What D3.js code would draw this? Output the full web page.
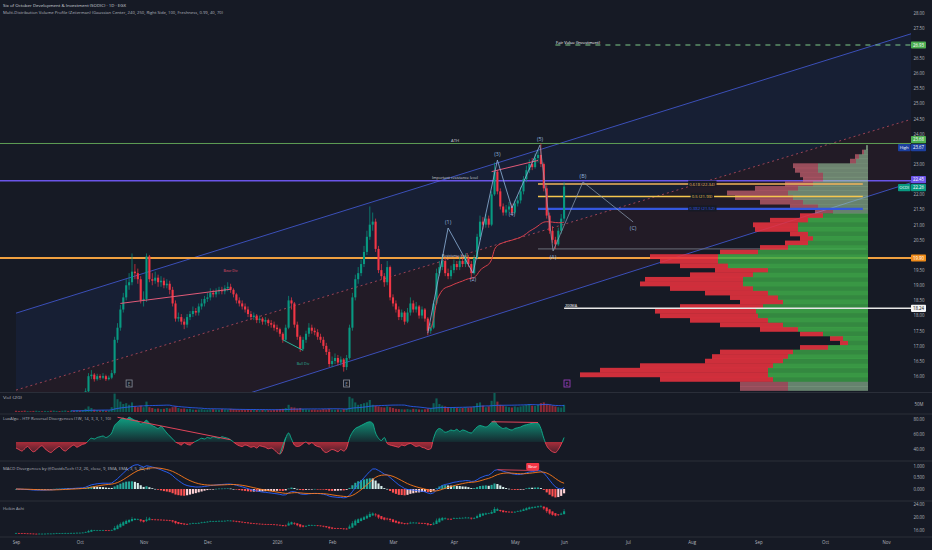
<!DOCTYPE html>
<html><head><meta charset="utf-8">
<script src="https://cdn.jsdelivr.net/npm/d3@7"></script>
<style>html,body{margin:0;padding:0;background:#161a25;}svg{display:block;font-family:"Open Sans",Roboto,sans-serif;}</style>
</head><body><svg id="c" width="932" height="550"></svg>
<script>
// ---------- DATA ----------
const firstOpen = 15.15;
const closes = [15.10,15.05,15.00,14.95,15.00,14.90,14.85,14.90,14.95,14.90,
14.95,15.00,14.95,15.05,15.10,15.05,15.10,15.15,15.10,15.20,
15.15,15.25,15.20,15.30,15.50,16.00,16.05,15.90,16.00,15.95,
16.00,15.90,15.95,16.10,17.20,17.60,18.20,18.60,19.00,19.10,
19.45,19.40,19.20,18.50,18.55,19.95,19.20,19.15,19.25,19.10,
19.15,19.00,19.05,18.85,18.40,17.90,17.95,17.80,17.70,17.95,
18.05,18.15,18.10,18.30,18.40,18.55,18.60,18.75,18.70,18.80,
18.85,18.80,18.90,18.95,18.85,18.70,18.50,18.40,18.30,18.20,
18.05,17.95,18.00,17.85,17.90,17.80,17.85,17.75,17.70,17.60,
17.55,17.40,17.20,17.60,18.50,18.40,17.70,17.30,16.90,17.20,
17.40,17.60,17.50,17.45,17.30,17.20,17.00,16.80,16.40,16.50,
16.60,16.45,16.55,16.30,16.60,17.60,18.60,19.20,19.40,19.70,
20.10,20.60,21.00,21.10,20.20,19.50,19.30,19.10,19.60,18.60,
18.40,18.20,17.95,18.10,17.80,18.10,18.40,18.20,18.30,18.00,
18.20,17.90,17.50,17.60,18.40,19.40,19.60,19.80,19.40,19.30,
19.50,19.70,19.60,19.80,19.70,19.90,19.70,19.40,19.90,20.60,
21.10,21.00,21.20,21.00,22.00,22.75,22.10,21.60,21.40,21.50,
21.60,21.40,21.70,21.80,22.10,22.50,22.80,23.00,22.90,23.20,
23.30,23.00,22.20,21.30,20.80,20.50,20.35,20.80,21.20,22.26];
const highs = [15.25,15.18,15.12,15.08,15.10,15.05,14.98,15.00,15.05,15.02,
15.05,15.10,15.06,15.12,15.20,15.16,15.18,15.24,15.20,15.28,
15.26,15.34,15.30,15.40,15.60,16.10,16.20,16.10,16.08,16.06,
16.10,16.05,16.02,16.20,17.30,17.75,18.35,18.75,19.20,19.40,
20.05,19.70,19.55,19.30,18.80,20.05,20.00,19.40,19.45,19.35,
19.30,19.25,19.20,19.15,18.95,18.50,18.10,18.05,17.90,18.05,
18.15,18.30,18.25,18.40,18.55,18.65,18.75,18.90,18.85,18.90,
18.95,18.95,19.00,19.10,19.05,18.90,18.75,18.60,18.50,18.40,
18.30,18.15,18.10,18.05,18.00,17.95,17.95,17.90,17.85,17.80,
17.70,17.60,17.45,17.70,18.65,18.60,18.45,17.80,17.35,17.30,
17.50,17.75,17.70,17.60,17.55,17.40,17.30,17.10,16.90,16.65,
16.75,16.70,16.65,16.60,16.70,17.70,18.75,19.35,19.60,19.85,
20.30,20.80,21.60,21.40,21.20,20.30,19.70,19.40,19.80,19.65,
18.70,18.50,18.30,18.20,18.15,18.25,18.60,18.50,18.45,18.35,
18.30,18.25,17.95,17.75,18.50,19.55,19.80,20.00,19.90,19.55,
19.65,19.85,19.80,19.95,19.90,20.05,20.00,19.80,20.00,20.70,
21.30,21.25,21.35,21.30,22.10,23.05,22.80,22.20,21.70,21.65,
21.75,21.70,21.80,21.95,22.25,22.60,22.95,23.15,23.20,23.35,
23.45,23.68,23.05,22.30,21.40,20.95,20.60,20.90,21.35,22.40];
const lows = [15.00,14.98,14.92,14.88,14.90,14.82,14.78,14.80,14.85,14.84,
14.86,14.90,14.88,14.90,15.00,14.98,15.00,15.05,15.04,15.06,
15.08,15.10,15.12,15.15,15.25,15.45,15.90,15.82,15.85,15.88,
15.90,15.84,15.86,15.90,16.05,17.10,17.50,18.10,18.50,18.85,
19.00,19.20,19.05,18.40,18.30,18.45,19.10,19.00,19.05,18.95,
18.95,18.90,18.90,18.70,18.30,17.80,17.80,17.70,17.55,17.60,
17.85,17.95,18.00,18.00,18.20,18.30,18.45,18.50,18.60,18.60,
18.70,18.70,18.70,18.80,18.75,18.60,18.40,18.30,18.20,18.10,
17.95,17.85,17.85,17.75,17.75,17.70,17.70,17.65,17.60,17.50,
17.45,17.30,17.10,17.15,17.55,18.20,17.60,17.20,16.80,16.85,
17.10,17.30,17.40,17.35,17.20,17.10,16.90,16.70,16.30,16.30,
16.40,16.35,16.35,16.15,16.20,16.55,17.50,18.50,19.05,19.30,
19.60,20.00,20.50,20.80,20.10,19.40,19.20,18.95,19.00,18.50,
18.30,18.10,17.85,17.85,17.70,17.75,18.00,18.10,18.10,17.90,
17.90,17.80,17.35,17.40,17.55,18.35,19.30,19.50,19.30,19.20,
19.20,19.40,19.50,19.50,19.60,19.60,19.60,19.20,19.35,19.85,
20.50,20.85,20.90,20.90,20.95,21.95,22.00,21.50,21.30,21.30,
21.40,21.30,21.35,21.60,21.70,22.00,22.40,22.70,22.80,22.85,
23.05,22.90,22.10,21.20,20.70,20.40,20.20,20.30,20.70,21.10];
const volumes = [8,6,7,9,6,5,7,8,6,5, 7,6,8,9,7,6,8,10,7,9, 8,10,9,12,20,35,25,15,12,10,
12,9,10,30,115,80,65,50,55,45, 60,35,30,40,30,65,30,25,20,22, 18,20,25,22,30,35,25,20,22,18,
20,15,14,16,18,15,14,16,17,15, 14,18,16,15,20,18,16,14,15,13, 14,12,15,13,12,14,13,12,11,13,
15,18,20,25,45,30,28,22,25,18, 16,15,14,15,13,14,18,16,20,15, 14,16,14,18,22,95,85,60,45,50,
55,60,75,45,40,35,30,28,35,30, 25,20,18,17,16,18,15,20,18,16, 15,17,22,25,55,85,50,40,35,30,
25,28,26,24,25,30,28,30,35,55, 60,40,30,35,70,120,65,45,40,35, 30,28,35,30,35,40,45,50,40,38,
45,55,60,50,45,40,35,30,28,45];
const luxOsc = [42,40,38,41,44,40,37,39,43,45,41,38,36,39,42,44,40,38,41,44,46,43,45,47,48,
52,55,54,56,57,58,56,58,62,72,76,80, 82,80,83,81,79,78, 74,76,79,75,72,70,68,71,67,
62,58,54,50, 48,46,49,47,46,49,51,53, 55,54,56,55,57,56,55,57,56,55,53,50,
47,45,44,46,45,43,44,42,45,44,43,41,42,40,36,34, 40,55,62,54,46,44,45,
48,50,47,49,46,44,43,38,36,38,40,39,37,40,38,42,55,63, 68,70,72,74,76,77,75, 62,55,52,56,
48,46,45,44,43,46,45,47,48,46,44,45,43,42,40,41, 55,65,68,66,63,64,66,65,67,64,66,65,63,62,66,
70,72,71,70,72,76,78,73, 70,68,69,67,66,68,69,70,72,73,74,75,76,75, 68,55,45,40,37,36,40,47,56];
const monthLabels = ["Sep","Oct","Nov","Dec","2026","Feb","Mar","Apr","May","Jun","Jul","Aug","Sep","Oct","Nov"];
const monthStartBars = [0,22,44,66,90,109,130,151,172,189,211,233,256,279,300];
const priceTicks = [16,16.5,17,17.5,18,18.5,19,19.5,20,20.5,21,21.5,22,22.5,23,23.5,24,24.5,25,25.5,26,26.5,27,27.5,28];
const profilePrices = [15.60,15.75,15.90,16.05,16.20,16.35,16.50,16.65,16.80,16.95,17.10,17.25,17.40,17.55,17.70,17.85,18.00,18.15,18.30,18.45,18.60,18.75,18.90,19.05,19.20,19.35,19.50,19.65,19.80,19.95,20.10,20.25,20.40,20.55,20.70,20.85,21.00,21.15,21.30,21.45,21.60,21.75,21.90,22.05,22.20,22.35,22.50,22.65,22.80,22.95,23.10,23.25,23.40,23.55];
const profileTotal = [128,128,208,288,268,228,163,156,148,68,28,38,68,108,148,178,208,213,188,128,138,163,198,228,223,178,153,188,208,218,148,108,83,68,78,113,115,98,68,53,78,108,133,141,113,83,65,68,73,75,18,13,6,2];
const profileBuy = [80,80,95,100,100,95,85,80,75,40,20,25,45,70,85,100,110,112,105,85,90,100,115,125,125,115,100,140,150,150,110,80,60,55,60,70,70,60,45,35,50,65,75,80,70,55,45,45,50,50,12,9,4,2];
const channelBars = [0, 316];
const channelUpper = [18.08, 27.52];
const channelMid = [15.54, 24.69];
const channelLower = [12.99, 22.61];
const waveBars = [142,149,157.6,166,171,180.7,185.2,195.5,212.8];
const wavePrices = [17.42,20.89,19.40,23.13,21.55,23.63,20.13,22.41,21.09];
const waveNames = ["","(1)","(2)","(3)","(4)","(5)","(A)","(B)","(C)"];
const fibPrices = [22.34,21.93,21.52];
const fibNames = ["0.618 (22.34)","0.5 (21.93)","0.382 (21.52)"];
const levelATH = 23.68, levelResist = 22.45, levelSupport = 19.90, levelMA200 = 18.24, levelFair = 26.93, levelA = 20.20;
const vwapAnchor = 142;
const eMarkerBars = [39,114,190];

// ---------- SETUP ----------
const svg = d3.select("#c");
const bg = "#161a25", up = "#089981", dn = "#f23645", txt = "#b2b5be";
const plotR = 911;
const x = d3.scaleLinear().domain([0,316]).range([16,932.4]);
const yP = d3.scaleLinear().domain([19.9,26.93]).range([258,45]);
const yV = d3.scaleLinear().domain([0,50]).range([412,404]);
const yL = d3.scaleLinear().domain([40,80]).range([449.5,419.5]);
const yM = d3.scaleLinear().domain([0,1]).range([489,466]);
const yH = d3.scaleLinear().domain([16,24]).range([530.2,503.8]);

svg.append("rect").attr("width",932).attr("height",550).attr("fill",bg);
const defs = svg.append("defs");
function clip(id,x0,y0,w,h){defs.append("clipPath").attr("id",id).append("rect").attr("x",x0).attr("y",y0).attr("width",w).attr("height",h);}
clip("cP",0,0,plotR,392); clip("cV",0,393,plotR,21); clip("cL",0,414,plotR,47); clip("cM",0,461,plotR,40); clip("cH",0,501,plotR,36);
clip("cLup",0,414,plotR,yL(50)-414); clip("cLdn",0,yL(50),plotR,461-yL(50));
function grad(id,y1,y2,c,o1,o2){const g=defs.append("linearGradient").attr("id",id).attr("gradientUnits","userSpaceOnUse").attr("x1",0).attr("x2",0).attr("y1",y1).attr("y2",y2);
 g.append("stop").attr("offset",0).attr("stop-color",c).attr("stop-opacity",o1);g.append("stop").attr("offset",1).attr("stop-color",c).attr("stop-opacity",o2);}
grad("gUp",416,yL(50),"#0fae8c",0.95,0.1); grad("gDn",yL(50),458,"#c4303e",0.85,0.05);

const bars = closes.map((c,i)=>({i,o:i?closes[i-1]:firstOpen,h:highs[i],l:lows[i],c,v:volumes[i]}));

// separators
[392.5,414,461,501,537].forEach(y=>svg.append("line").attr("x1",0).attr("x2",932).attr("y1",y).attr("y2",y).attr("stroke","#2a2e39").attr("stroke-width",1));

// ---------- PRICE PANE ----------
const gP = svg.append("g").attr("clip-path","url(#cP)");
const lineAt = (arr)=>[[x(channelBars[0]),yP(arr[0])],[x(channelBars[1]),yP(arr[1])]];
const U=lineAt(channelUpper), Mi=lineAt(channelMid), Lo=lineAt(channelLower);
gP.append("path").attr("d",d3.line()([U[0],U[1],Mi[1],Mi[0]])+"Z").attr("fill","rgba(41,98,255,0.07)");
gP.append("path").attr("d",d3.line()([Mi[0],Mi[1],Lo[1],Lo[0]])+"Z").attr("fill","rgba(200,40,60,0.07)");
gP.append("path").attr("d",d3.line()(U)).attr("stroke","#3b4fb8").attr("stroke-width",1).attr("fill","none");
gP.append("path").attr("d",d3.line()(Lo)).attr("stroke","#3b4fb8").attr("stroke-width",1).attr("fill","none");
gP.append("path").attr("d",d3.line()(Mi)).attr("stroke","#a8475a").attr("stroke-width",0.9).attr("stroke-dasharray","2,3").attr("fill","none");

function hline(p,x1,x2,color,w,dash){gP.append("line").attr("x1",x1).attr("x2",x2).attr("y1",yP(p)).attr("y2",yP(p)).attr("stroke",color).attr("stroke-width",w).attr("stroke-dasharray",dash||null);}
hline(levelATH,0,plotR,"#5f9f55",1);
hline(levelResist,0,plotR,"#6a55e8",1.3);
hline(levelSupport,0,plotR,"#f0a040",2);
hline(levelFair,x(186),plotR,"#7fc98a",1.2,"5,5");
hline(levelA,x(180),x(293),"#6b6f7a",1);

// volume profile
const pEdge = 868, rowH = Math.abs(yP(0.15)-yP(0));
const wScale = d3.scaleLinear().domain([0,300]).range([0,300]);
const prof = profilePrices.map((p,k)=>({p,t:profileTotal[k],b:profileBuy[k]}));
const faded = d=>d.p>=21.4||d.p<=15.75;
gP.selectAll("rect.ps").data(prof).join("rect").attr("x",d=>pEdge-wScale(d.t)).attr("width",d=>wScale(d.t-d.b))
 .attr("y",d=>yP(d.p)-rowH/2).attr("height",rowH+0.3).attr("fill",d=>faded(d)?"#e8707e":"#e8323f").attr("opacity",d=>faded(d)?0.6:0.88);
gP.selectAll("rect.pb").data(prof).join("rect").attr("x",d=>pEdge-wScale(d.b)).attr("width",d=>wScale(d.b))
 .attr("y",d=>yP(d.p)-rowH/2).attr("height",rowH+0.3).attr("fill",d=>faded(d)?"#a9d8ab":"#3fae4a").attr("opacity",(d,k)=>faded(d)?0.55:(k%2?0.85:0.75));

// fib lines
const fibColors = ["#f2b45a","#f5c64e","#3457e0"], fibW=[1.5,1.5,2.4];
fibPrices.forEach((p,k)=>{hline(p,x(180),x(292),fibColors[k],fibW[k]);});
fibPrices.forEach((p,k)=>{const t=gP.append("text").attr("x",702).attr("y",yP(p)+1.5).attr("text-anchor","middle").attr("font-size",4.3).attr("fill",fibColors[k]).text(fibNames[k]);
 const bb=t.node().getBBox(); gP.insert("rect","text").attr("x",bb.x-1).attr("y",bb.y).attr("width",bb.width+2).attr("height",bb.height).attr("fill",bg);});

// 200MA line
hline(levelMA200,x(189),plotR,"#e8e8e8",1.6);

// candles
gP.selectAll("line.wk").data(bars).join("line").attr("x1",d=>x(d.i)).attr("x2",d=>x(d.i)).attr("y1",d=>yP(d.h)).attr("y2",d=>yP(d.l))
 .attr("stroke",d=>d.c>=d.o?up:dn).attr("stroke-width",0.7);
gP.selectAll("rect.bd").data(bars).join("rect").attr("x",d=>x(d.i)-1.05).attr("width",2.1).attr("y",d=>yP(Math.max(d.o,d.c)))
 .attr("height",d=>Math.max(0.7,Math.abs(yP(d.o)-yP(d.c)))).attr("fill",d=>d.c>=d.o?up:dn);

// anchored VWAP
let cpv=0,cv=0; const vw=[];
bars.slice(vwapAnchor).forEach(d=>{const tp=(d.h+d.l+d.c)/3;cpv+=tp*d.v;cv+=d.v;vw.push([d.i,cpv/cv]);});
gP.append("path").attr("d",d3.line().x(d=>x(d[0])).y(d=>yP(d[1])).curve(d3.curveMonotoneX)(vw)).attr("fill","none").attr("stroke","#d8404c").attr("stroke-width",1);

// divergence lines in price
function seg(g,ys,b1,v1,b2,v2,c,w){g.append("line").attr("x1",x(b1)).attr("x2",x(b2)).attr("y1",ys(v1)).attr("y2",ys(v2)).attr("stroke",c).attr("stroke-width",w||1);}
seg(gP,yP,36,18.4,74,18.87,"#e05a78",1);
seg(gP,yP,164,22.75,180,23.12,"#e05a78",1);
seg(gP,yP,92,17.2,99,16.85,"#2bb39a",1);
gP.append("text").attr("x",x(74)).attr("y",yP(19.43)).attr("text-anchor","middle").attr("font-size",3.6).attr("fill","#e0506a").text("Bear Div");
gP.append("text").attr("x",x(99)).attr("y",yP(16.38)).attr("text-anchor","middle").attr("font-size",3.6).attr("fill","#2bb39a").text("Bull Div");

// Elliott waves
const wpts = waveBars.map((b,k)=>[x(b),yP(wavePrices[k])]);
gP.append("path").attr("d",d3.line()(wpts.slice(0,6))).attr("fill","none").attr("stroke","#8fb4dc").attr("stroke-width",0.8);
gP.append("path").attr("d",d3.line()(wpts.slice(5))).attr("fill","none").attr("stroke","#8fa2b8").attr("stroke-width",0.7);
waveNames.forEach((n,k)=>{if(!n)return;const peak=wavePrices[k]>wavePrices[k-1];
 gP.append("text").attr("x",wpts[k][0]).attr("y",wpts[k][1]+(peak?-4:8)).attr("text-anchor","middle").attr("font-size",5.4).attr("fill","#8fb4dc").text(n);});

// level texts
function ltxt(t,xx,p,len,c){gP.append("text").attr("x",xx).attr("y",yP(p)-1.5).attr("font-size",4).attr("fill",c||"#d1d4dc").attr("textLength",len).attr("lengthAdjust","spacingAndGlyphs").text(t);}
ltxt("ATH",451,levelATH,8);
ltxt("Important resistance level",432,levelResist,46);
ltxt("Resistance level",442,levelSupport,26);
ltxt("200MA",565,levelMA200,12,"#ffffff");
ltxt("Fair Value (Investment)",556,levelFair,44,"#ffffff");

// E markers
eMarkerBars.forEach((b,k)=>{const c=k===2?"#a341c9":"#8a8e99";
 gP.append("rect").attr("x",x(b)-3).attr("y",380).attr("width",6).attr("height",7).attr("fill",bg).attr("stroke",c).attr("stroke-width",0.8);
 gP.append("text").attr("x",x(b)).attr("y",385.5).attr("text-anchor","middle").attr("font-size",4.5).attr("fill",c).text("E");});

// ---------- VOLUME PANE ----------
const gV = svg.append("g").attr("clip-path","url(#cV)");
gV.selectAll("rect").data(bars).join("rect").attr("x",d=>x(d.i)-1.05).attr("width",2.1).attr("y",d=>yV(d.v)).attr("height",d=>yV(0)-yV(d.v))
 .attr("fill",d=>d.c>=d.o?up:dn).attr("opacity",0.55);
const vma = bars.map((d,i)=>i<19?null:[d.i,d3.mean(volumes.slice(i-19,i+1))]).filter(Boolean);
gV.append("path").attr("d",d3.line().x(d=>x(d[0])).y(d=>yV(d[1]))(vma)).attr("fill","none").attr("stroke","#2962ff").attr("stroke-width",0.8);

// ---------- LUX PANE ----------
const gL = svg.append("g").attr("clip-path","url(#cL)");
const luxPts = luxOsc.map((v,i)=>[i,v]);
const lArea = d3.area().x(d=>x(d[0])).y0(yL(50)).y1(d=>yL(d[1])).curve(d3.curveMonotoneX);
const lLine = d3.line().x(d=>x(d[0])).y(d=>yL(d[1])).curve(d3.curveMonotoneX);
gL.append("g").attr("clip-path","url(#cLup)").call(g=>{g.append("path").attr("d",lArea(luxPts)).attr("fill","url(#gUp)");g.append("path").attr("d",lLine(luxPts)).attr("fill","none").attr("stroke","#10b08e").attr("stroke-width",0.9);});
gL.append("g").attr("clip-path","url(#cLdn)").call(g=>{g.append("path").attr("d",lArea(luxPts)).attr("fill","url(#gDn)");g.append("path").attr("d",lLine(luxPts)).attr("fill","none").attr("stroke","#f04458").attr("stroke-width",0.9);});
seg(gL,yL,35,83,74,53,"#e0455a",1);
seg(gL,yL,164,77,180,76,"#e0455a",1);
seg(gL,yL,91,34,93,56,"#12b08f",0.9);

// ---------- MACD PANE ----------
const gM = svg.append("g").attr("clip-path","url(#cM)");
function ema(arr,n){const k=2/(n+1);let e=arr[0];return arr.map(v=>e=v*k+e*(1-k));}
const e12=ema(closes,12), e26=ema(closes,26);
const macd=closes.map((_,i)=>e12[i]-e26[i]); const sig=ema(macd,9); const hist=macd.map((m,i)=>m-sig[i]);
gM.selectAll("rect").data(hist).join("rect").attr("x",(d,i)=>x(i)-1.05).attr("width",2.1).attr("y",d=>Math.min(yM(d),yM(0))).attr("height",d=>Math.max(0.6,Math.abs(yM(d)-yM(0))))
 .attr("fill",(d,i)=>{const p=i?hist[i-1]:0; return d>=0?(d>=p?"#26a69a":"#d7efec"):(d<p?"#ff5252":"#ffd2d6");});
gM.append("path").attr("d",d3.line().x((d,i)=>x(i)).y(d=>yM(d))(macd)).attr("fill","none").attr("stroke","#2962ff").attr("stroke-width",0.9);
gM.append("path").attr("d",d3.line().x((d,i)=>x(i)).y(d=>yM(d))(sig)).attr("fill","none").attr("stroke","#ff7a1a").attr("stroke-width",0.9);
seg(gM,yM,166,macd[166],180,macd[180],"#e0455a",0.9);
gM.append("rect").attr("x",x(178)-6).attr("y",463).attr("width",13).attr("height",7).attr("rx",1).attr("fill","#f23645");
gM.append("text").attr("x",x(178)+0.5).attr("y",468.3).attr("text-anchor","middle").attr("font-size",4.2).attr("fill","#fff").text("Bear");

// ---------- HEIKIN ASHI ----------
const gH = svg.append("g").attr("clip-path","url(#cH)");
let hao=firstOpen, hac=firstOpen; const ha=[];
bars.forEach((d,i)=>{const c=(d.o+d.h+d.l+d.c)/4;const o=i?(hao+hac)/2:(d.o+d.c)/2;hao=o;hac=c;ha.push({i,o,c,h:Math.max(d.h,o,c),l:Math.min(d.l,o,c)});});
gH.selectAll("line").data(ha).join("line").attr("x1",d=>x(d.i)).attr("x2",d=>x(d.i)).attr("y1",d=>yH(d.h)).attr("y2",d=>yH(d.l)).attr("stroke",d=>d.c>=d.o?up:dn).attr("stroke-width",0.6);
gH.selectAll("rect").data(ha).join("rect").attr("x",d=>x(d.i)-1.05).attr("width",2.1).attr("y",d=>yH(Math.max(d.o,d.c))).attr("height",d=>Math.max(0.7,Math.abs(yH(d.o)-yH(d.c)))).attr("fill",d=>d.c>=d.o?up:dn);

// ---------- AXES ----------
const boxes=[{p:levelFair,t:"26.93",c:"#4caf50",tc:"#fff"},{p:levelATH,t:"23.68",c:"#4caf50",tc:"#fff"},{p:23.67,t:"23.67",c:"#1c3f9e",tc:"#fff",tag:"High",tagc:"#1c3f9e"},
 {p:levelResist,t:"22.45",c:"#6a55e8",tc:"#fff"},{p:closes[closes.length-1],t:"22.26",c:"#089981",tc:"#fff",tag:"OCDI",tagc:"#089981"},
 {p:levelSupport,t:"19.90",c:"#f08c1a",tc:"#fff"},{p:levelMA200,t:"18.24",c:"#f5f5f5",tc:"#111"}];
boxes.forEach(b=>b.y=yP(b.p));
for(let k=1;k<boxes.length;k++){if(boxes[k].y-boxes[k-1].y<8){const m=(boxes[k].y+boxes[k-1].y)/2;boxes[k-1].y=m-4;boxes[k].y=m+4;}}
const axP = svg.append("g").attr("transform","translate(919,0)").call(d3.axisRight(yP).tickValues(priceTicks.filter(t=>boxes.every(b=>Math.abs(yP(t)-b.y)>5))).tickFormat(d3.format(".2f")).tickSize(0).tickPadding(0));
function styleAx(g){g.select(".domain").remove();g.selectAll("text").attr("fill",txt).attr("font-size",4.4).attr("text-anchor","middle").attr("font-family","'Open Sans',sans-serif");}
styleAx(axP);
boxes.forEach(b=>{svg.append("rect").attr("x",911).attr("y",b.y-3.6).attr("width",15).attr("height",7.2).attr("rx",0.8).attr("fill",b.c);
 svg.append("text").attr("x",918.5).attr("y",b.y+1.6).attr("text-anchor","middle").attr("font-size",4.4).attr("fill",b.tc).text(b.t);
 if(b.tag){svg.append("rect").attr("x",898).attr("y",b.y-3.6).attr("width",12.5).attr("height",7.2).attr("rx",0.8).attr("fill",b.tagc);
 svg.append("text").attr("x",904.2).attr("y",b.y+1.6).attr("text-anchor","middle").attr("font-size",4.2).attr("fill","#fff").text(b.tag);}});
styleAx(svg.append("g").attr("transform","translate(919,0)").call(d3.axisRight(yV).tickValues([50]).tickFormat(()=>"50M").tickSize(0).tickPadding(0)));
styleAx(svg.append("g").attr("transform","translate(919,0)").call(d3.axisRight(yL).tickValues([40,60,80]).tickFormat(d3.format(".2f")).tickSize(0).tickPadding(0)));
styleAx(svg.append("g").attr("transform","translate(919,0)").call(d3.axisRight(yM).tickValues([0,0.5,1]).tickFormat(d3.format(".3f")).tickSize(0).tickPadding(0)));
styleAx(svg.append("g").attr("transform","translate(919,0)").call(d3.axisRight(yH).tickValues([16,20,24]).tickFormat(d3.format(".2f")).tickSize(0).tickPadding(0)));
styleAx(svg.append("g").attr("transform","translate(0,541)").call(d3.axisBottom(x).tickValues(monthStartBars).tickFormat((d,k)=>monthLabels[k]).tickSize(0).tickPadding(0)));

// ---------- TEXT LABELS ----------
function t(s,xx,yy,len,fs,c){svg.append("text").attr("x",xx).attr("y",yy).attr("font-size",fs).attr("fill",c).attr("textLength",len).attr("lengthAdjust","spacingAndGlyphs").text(s);}
t("Six of October Development & Investment (SODIC) · 1D · EGX",3,7,123,4.2,"#d1d4dc");
t("Multi-Distribution Volume Profile (Zeiierman) (Gaussian Center, 240, 250, Right Side, 100, Freshness, 0.99, 40, 70)",3,14,220,3.8,"#b2b5be");
t("Vol (20)",3,398.5,19,4,"#b2b5be");
t("LuxAlgo - HTF Reversal Divergences (1W, 14, 3, 3, 1, 10)",3,420,108,4,"#b2b5be");
t("MACD Divergences by @DavidsTech (12, 26, close, 9, EMA, EMA, 3, 5, 80, 2)",3,469.5,147,4,"#b2b5be");
t("Heikin Ashi",3,509.5,21,4,"#b2b5be");
</script></body></html>
